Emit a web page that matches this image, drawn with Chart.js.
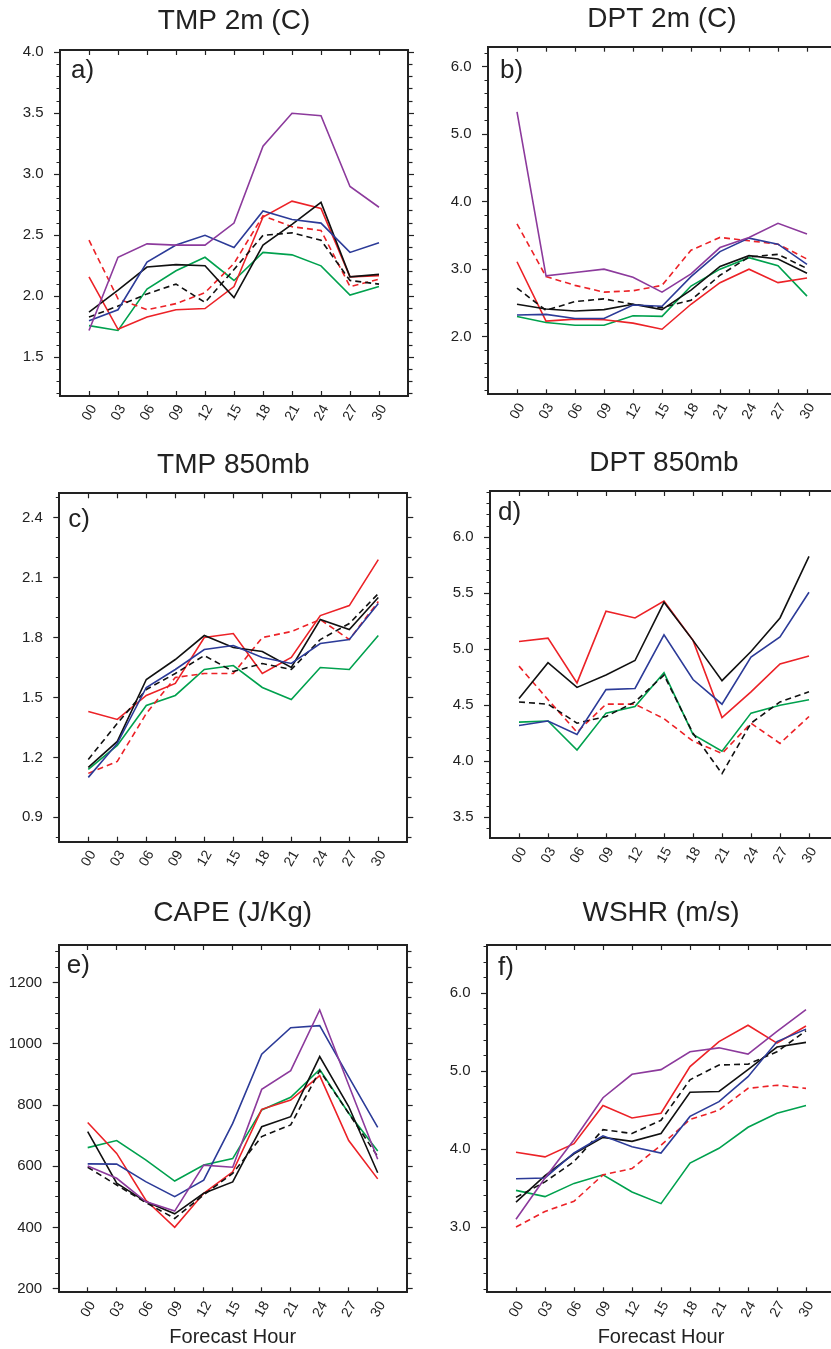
<!DOCTYPE html>
<html>
<head>
<meta charset="utf-8">
<script src="https://cdn.jsdelivr.net/npm/chart.js@4.4.0/dist/chart.umd.min.js"></script>
<style>
  html, body { margin: 0; padding: 0; background: #fff; overflow: hidden; width: 831px; height: 1349px; }
  canvas { position: absolute; }
</style>
</head>
<body>
<canvas id="pa" width="415" height="440" style="left:0;top:0"></canvas>
<canvas id="pb" width="430" height="440" style="left:415px;top:0"></canvas>
<canvas id="pc" width="415" height="440" style="left:0;top:440px"></canvas>
<canvas id="pd" width="430" height="440" style="left:415px;top:440px"></canvas>
<canvas id="pe" width="415" height="469" style="left:0;top:880px"></canvas>
<canvas id="pf" width="430" height="469" style="left:415px;top:880px"></canvas>
<script>
// forecast hours and their tick labels
const hours = [0, 3, 6, 9, 12, 15, 18, 21, 24, 27, 30];
const hourLabels = ['00', '03', '06', '09', '12', '15', '18', '21', '24', '27', '30'];

// a) TMP 2m (C)
const tmp2mPurple    = [1.72, 2.32, 2.43, 2.42, 2.42, 2.60, 3.23, 3.50, 3.48, 2.90, 2.73];
const tmp2mBlue      = [1.80, 1.89, 2.28, 2.42, 2.50, 2.40, 2.70, 2.63, 2.60, 2.36, 2.44];
const tmp2mBlack     = [1.87, 2.05, 2.24, 2.26, 2.25, 1.99, 2.42, 2.59, 2.77, 2.16, 2.18];
const tmp2mBlackDash = [1.83, 1.92, 2.02, 2.10, 1.95, 2.22, 2.50, 2.52, 2.46, 2.13, 2.10];
const tmp2mRed       = [2.16, 1.73, 1.83, 1.89, 1.90, 2.08, 2.65, 2.78, 2.72, 2.16, 2.17];
const tmp2mRedDash   = [2.46, 1.98, 1.89, 1.94, 2.03, 2.27, 2.66, 2.57, 2.54, 2.08, 2.14];
const tmp2mGreen     = [1.76, 1.72, 2.06, 2.21, 2.32, 2.13, 2.36, 2.34, 2.25, 2.01, 2.08];

// b) DPT 2m (C)
const dpt2mPurple    = [5.33, 2.90, 2.95, 3.00, 2.88, 2.66, 2.93, 3.32, 3.47, 3.68, 3.52];
const dpt2mBlue      = [2.32, 2.33, 2.27, 2.27, 2.47, 2.45, 2.89, 3.26, 3.46, 3.37, 3.07];
const dpt2mBlack     = [2.48, 2.41, 2.38, 2.40, 2.48, 2.40, 2.69, 3.04, 3.20, 3.15, 2.94];
const dpt2mBlackDash = [2.72, 2.39, 2.52, 2.56, 2.48, 2.43, 2.54, 2.91, 3.18, 3.22, 3.01];
const dpt2mRed       = [3.11, 2.23, 2.26, 2.25, 2.20, 2.11, 2.48, 2.80, 3.00, 2.80, 2.87];
const dpt2mRedDash   = [3.67, 2.89, 2.76, 2.66, 2.68, 2.76, 3.28, 3.47, 3.42, 3.37, 3.15];
const dpt2mGreen     = [2.30, 2.21, 2.17, 2.17, 2.31, 2.30, 2.75, 3.00, 3.17, 3.05, 2.60];

// c) TMP 850mb
const tmp850Blue      = [1.10, 1.27, 1.55, 1.64, 1.74, 1.76, 1.70, 1.67, 1.77, 1.79, 1.97];
const tmp850Black     = [1.15, 1.28, 1.59, 1.69, 1.81, 1.75, 1.73, 1.65, 1.89, 1.84, 2.00];
const tmp850BlackDash = [1.19, 1.37, 1.54, 1.62, 1.71, 1.63, 1.67, 1.64, 1.79, 1.87, 2.02];
const tmp850Red       = [1.43, 1.39, 1.51, 1.57, 1.80, 1.82, 1.62, 1.70, 1.91, 1.96, 2.19];
const tmp850RedDash   = [1.12, 1.18, 1.42, 1.60, 1.62, 1.62, 1.80, 1.83, 1.89, 1.79, 1.98];
const tmp850Green     = [1.14, 1.26, 1.46, 1.51, 1.64, 1.66, 1.55, 1.49, 1.65, 1.64, 1.81];

// d) DPT 850mb
const dpt850Blue      = [4.32, 4.36, 4.24, 4.64, 4.65, 5.13, 4.73, 4.51, 4.93, 5.11, 5.51];
const dpt850Black     = [4.56, 4.88, 4.66, 4.77, 4.90, 5.42, 5.08, 4.72, 4.98, 5.28, 5.83];
const dpt850BlackDash = [4.53, 4.51, 4.34, 4.40, 4.53, 4.77, 4.25, 3.89, 4.34, 4.53, 4.62];
const dpt850Red       = [5.07, 5.10, 4.70, 5.34, 5.28, 5.43, 5.08, 4.39, 4.62, 4.87, 4.94];
const dpt850RedDash   = [4.85, 4.55, 4.26, 4.51, 4.51, 4.38, 4.18, 4.07, 4.34, 4.16, 4.40];
const dpt850Green     = [4.35, 4.36, 4.10, 4.43, 4.49, 4.79, 4.24, 4.09, 4.43, 4.50, 4.55];

// e) CAPE (J/Kg)
const capePurple    = [601, 561, 485, 454, 604, 597, 851, 912, 1110, 865, 623];
const capeBlue      = [608, 607, 550, 501, 555, 740, 966, 1052, 1059, 892, 727];
const capeBlack     = [713, 545, 485, 445, 512, 549, 729, 762, 958, 795, 579];
const capeBlackDash = [597, 539, 482, 430, 507, 577, 697, 735, 912, 773, 632];
const capeRed       = [743, 642, 490, 401, 512, 582, 786, 816, 896, 684, 559];
const capeGreen     = [661, 684, 621, 552, 604, 625, 784, 825, 916, 773, 650];

// f) WSHR (m/s)
const wshrPurple    = [3.10, 3.63, 4.12, 4.66, 4.96, 5.02, 5.25, 5.30, 5.22, 5.51, 5.79];
const wshrBlue      = [3.62, 3.63, 3.95, 4.17, 4.03, 3.95, 4.42, 4.61, 4.93, 5.38, 5.54];
const wshrBlack     = [3.32, 3.66, 3.94, 4.15, 4.10, 4.20, 4.73, 4.74, 5.02, 5.31, 5.37];
const wshrBlackDash = [3.38, 3.58, 3.84, 4.25, 4.20, 4.37, 4.89, 5.08, 5.09, 5.25, 5.52];
const wshrRed       = [3.96, 3.90, 4.07, 4.56, 4.40, 4.46, 5.06, 5.38, 5.59, 5.36, 5.58];
const wshrRedDash   = [3.00, 3.20, 3.33, 3.67, 3.75, 4.05, 4.38, 4.50, 4.78, 4.82, 4.78];
const wshrGreen     = [3.47, 3.39, 3.56, 3.67, 3.45, 3.30, 3.82, 4.01, 4.28, 4.46, 4.56];

const ink = '#222';
const styles = {
  purple:    { color: '#8c3a9c' },
  blue:      { color: '#2c3b98' },
  black:     { color: '#111111' },
  blackDash: { color: '#111111', dash: true },
  red:       { color: '#ec2227' },
  redDash:   { color: '#ec2227', dash: true },
  green:     { color: '#00a14e' }
};

Chart.defaults.font.family = "'Liberation Sans', Arial, Helvetica, sans-serif";
Chart.defaults.color = ink;

// panel letter in upper-left corner of the plot frame
const panelLetter = {
  id: 'panelLetter',
  afterDraw(chart, args, opts) {
    const { ctx, chartArea } = chart;
    ctx.save();
    ctx.font = "26px 'Liberation Sans', Arial, sans-serif";
    ctx.fillStyle = ink;
    ctx.textBaseline = 'alphabetic';
    ctx.fillText(opts.text, chartArea.left + opts.dx, chartArea.top + opts.dy);
    ctx.restore();
  }
};

function stepTicks(min, max, step) {
  const out = [];
  for (let k = Math.ceil(min / step - 1e-9); k * step <= max + 1e-9; k++) {
    out.push({ value: Math.round(k * step * 1000) / 1000 });
  }
  return out;
}
const isMajor = (v, major) => Math.abs(v / major - Math.round(v / major)) < 1e-6;

function makePanel(p) {
  const canvas = document.getElementById(p.id);
  const W = canvas.width, H = canvas.height;
  const datasets = p.series.map(([key, values]) => ({
    data: hours.map((h, i) => ({ x: h, y: values[i] })),
    borderColor: styles[key].color,
    borderWidth: 1.6,
    borderDash: styles[key].dash ? [6, 4] : [],
    pointRadius: 0,
    tension: 0,
    fill: false
  }));
  const frame = { display: true, color: ink, width: 2 };
  const xTicks = s => { s.ticks = hours.map(v => ({ value: v })); };
  const yTicks = s => { s.ticks = stepTicks(p.min, p.max, p.minor); };
  const yGrid = (outerIsStart) => ({
    drawOnChartArea: false, tickLength: 6, tickColor: ink, tickWidth: 1.2,
    tickBorderDash: ctx => isMajor(ctx.tick.value, p.major) ? [] : (outerIsStart ? [0, 2.5, 3.5, 100] : [3.5, 100])
  });

  new Chart(canvas, {
    type: 'line',
    data: { datasets },
    options: {
      responsive: false,
      animation: false,
      layout: { padding: 0 },
      plugins: {
        legend: { display: false },
        tooltip: { enabled: false },
        title: {
          display: true, text: p.title, fullSize: false, color: ink,
          font: { size: 28, weight: 'normal' },
          padding: { top: p.titleTop, bottom: p.titleBottom }
        },
        panelLetter: { text: p.letter, dx: p.letterDx, dy: p.letterDy }
      },
      scales: {
        x: {
          type: 'linear', position: 'bottom', min: -3, max: 33,
          afterBuildTicks: xTicks,
          afterFit: s => { s.height = H - p.bottom; },
          grid: { drawOnChartArea: false, tickLength: -5, tickColor: ink, tickWidth: 1.2 },
          border: frame,
          ticks: {
            autoSkip: false, minRotation: 60, maxRotation: 60, padding: 11, labelOffset: 4.5,
            font: { size: 14 }, color: ink,
            callback: v => hourLabels[hours.indexOf(v)]
          },
          title: p.xTitle
            ? { display: true, text: p.xTitle, color: ink, font: { size: 20 }, padding: { top: 0, bottom: 0 } }
            : { display: false }
        },
        xTop: {
          type: 'linear', position: 'top', min: -3, max: 33,
          afterBuildTicks: xTicks,
          afterFit: s => { s.height = 0; },
          grid: { drawOnChartArea: false, tickLength: -5, tickColor: ink, tickWidth: 1.2 },
          border: frame,
          ticks: { display: false }
        },
        y: {
          type: 'linear', position: 'left', min: p.min, max: p.max,
          afterBuildTicks: yTicks,
          afterFit: s => { s.width = p.left; },
          grid: yGrid(true),
          border: frame,
          ticks: {
            autoSkip: false, padding: 10.5, font: { size: 15 }, color: ink,
            callback: v => isMajor(v, p.major) ? v.toFixed(p.decimals) : ''
          }
        },
        yRight: {
          type: 'linear', position: 'right', min: p.min, max: p.max,
          afterBuildTicks: yTicks,
          afterFit: s => { s.width = W - p.right; },
          grid: yGrid(false),
          border: frame,
          ticks: { display: false }
        }
      }
    },
    plugins: [panelLetter]
  });
}

makePanel({
  id: 'pa', title: 'TMP 2m (C)', letter: 'a)', letterDx: 11, letterDy: 28,
  left: 60, right: 408, bottom: 396, titleTop: 4.5, titleBottom: 11.9,
  min: 1.183, max: 4.019, minor: 0.1, major: 0.5, decimals: 1,
  series: [['purple', tmp2mPurple], ['blue', tmp2mBlue], ['black', tmp2mBlack], ['blackDash', tmp2mBlackDash],
           ['red', tmp2mRed], ['redDash', tmp2mRedDash], ['green', tmp2mGreen]]
});
makePanel({
  id: 'pb', title: 'DPT 2m (C)', letter: 'b)', letterDx: 12, letterDy: 31,
  left: 73, right: 421, bottom: 394.3, titleTop: 2.5, titleBottom: 10.6,
  min: 1.146, max: 6.296, minor: 0.2, major: 1.0, decimals: 1,
  series: [['purple', dpt2mPurple], ['blue', dpt2mBlue], ['black', dpt2mBlack], ['blackDash', dpt2mBlackDash],
           ['red', dpt2mRed], ['redDash', dpt2mRedDash], ['green', dpt2mGreen]]
});
makePanel({
  id: 'pc', title: 'TMP 850mb', letter: 'c)', letterDx: 9, letterDy: 34,
  left: 59.3, right: 407.3, bottom: 401.7, titleTop: 8.5, titleBottom: 11.2,
  min: 0.778, max: 2.522, minor: 0.1, major: 0.3, decimals: 1,
  series: [['blue', tmp850Blue], ['black', tmp850Black], ['blackDash', tmp850BlackDash],
           ['red', tmp850Red], ['redDash', tmp850RedDash], ['green', tmp850Green]]
});
makePanel({
  id: 'pd', title: 'DPT 850mb', letter: 'd)', letterDx: 8, letterDy: 29,
  left: 75, right: 423, bottom: 398.3, titleTop: 6.5, titleBottom: 10.9,
  min: 3.312, max: 6.414, minor: 0.1, major: 0.5, decimals: 1,
  series: [['blue', dpt850Blue], ['black', dpt850Black], ['blackDash', dpt850BlackDash],
           ['red', dpt850Red], ['redDash', dpt850RedDash], ['green', dpt850Green]]
});
makePanel({
  id: 'pe', title: 'CAPE (J/Kg)', letter: 'e)', letterDx: 8, letterDy: 28, xTitle: 'Forecast Hour',
  left: 58.7, right: 406.7, bottom: 412.3, titleTop: 16.5, titleBottom: 14.9,
  min: 189, max: 1322, minor: 50, major: 200, decimals: 0,
  series: [['purple', capePurple], ['blue', capeBlue], ['black', capeBlack], ['blackDash', capeBlackDash],
           ['red', capeRed], ['green', capeGreen]]
});
makePanel({
  id: 'pf', title: 'WSHR (m/s)', letter: 'f)', letterDx: 11, letterDy: 30, xTitle: 'Forecast Hour',
  left: 72, right: 420, bottom: 412.3, titleTop: 16.5, titleBottom: 14.9,
  min: 2.162, max: 6.62, minor: 0.2, major: 1.0, decimals: 1,
  series: [['purple', wshrPurple], ['blue', wshrBlue], ['black', wshrBlack], ['blackDash', wshrBlackDash],
           ['red', wshrRed], ['redDash', wshrRedDash], ['green', wshrGreen]]
});
</script>
</body>
</html>
